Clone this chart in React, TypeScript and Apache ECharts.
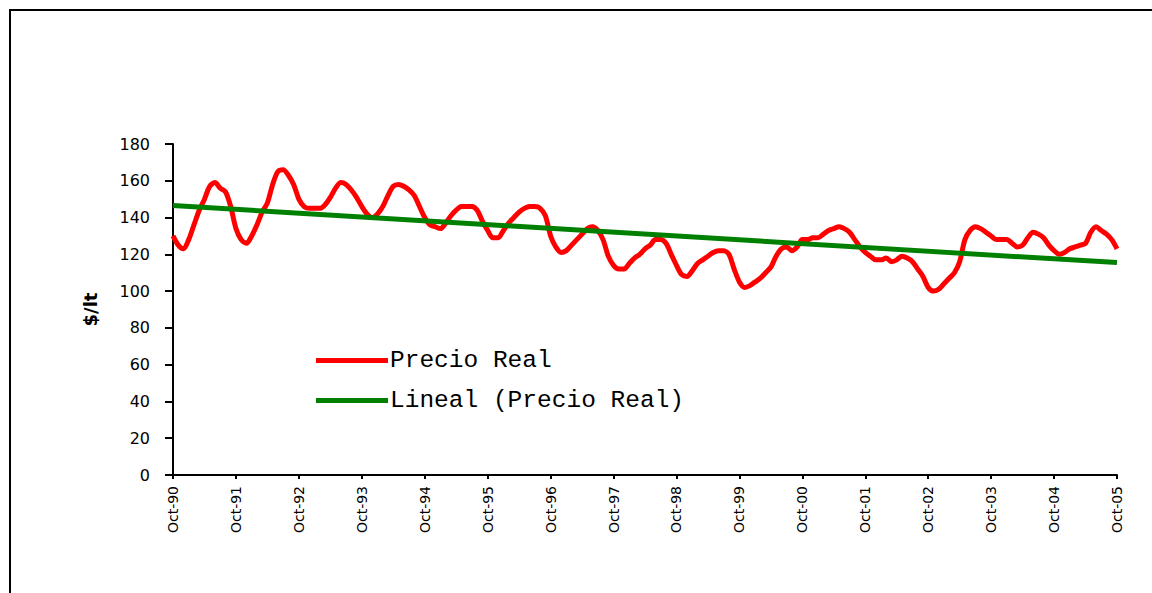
import React, { useEffect, useRef } from "react";
import * as echarts from "echarts";

// Monthly real price ($/lt), Oct-90 .. Oct-05 (181 points)
const precioReal: number[] = [
  130, 125, 123, 128, 136, 144, 150, 157, 159, 156, 154, 146,
  134, 128, 126, 130, 136, 143, 148, 158, 165, 166, 163, 158,
  150, 146, 145, 145, 145, 147, 151, 156, 159, 158, 155, 151,
  146, 142, 140, 142, 146, 152, 157, 158, 157, 155, 152, 146,
  140, 136, 135, 134, 137, 141, 144, 146, 146, 146, 144, 138,
  133, 129, 129, 133, 137, 140, 143, 145, 146, 146, 145, 141,
  130, 124, 121, 122, 125, 128, 131, 134, 135, 133, 128, 119,
  114, 112, 112, 115, 118, 120, 123, 125, 128, 128, 126, 120,
  114, 109, 108, 111, 115, 117, 119, 121, 122, 122, 120, 112,
  105, 102, 103, 105, 107, 110, 113, 119, 123, 124, 122, 124,
  128, 128, 129, 129, 131, 133, 134, 135, 134, 132, 128, 124,
  121, 119, 117, 117, 118, 116, 117, 119, 118, 116, 112, 108,
  102, 100, 101, 104, 107, 110, 116, 128, 133, 135, 134, 132,
  130, 128, 128, 128, 126, 124, 125, 129, 132, 131, 129, 125,
  122, 120, 121, 123, 124, 125, 126, 132, 135, 133, 131, 128,
  123,
];

// Linear trend ("Lineal (Precio Real)") end values
const trendStart = 146.5;
const trendEnd = 115.5;

const monthNames = ["Jan", "Feb", "Mar", "Apr", "May", "Jun", "Jul", "Aug", "Sep", "Oct", "Nov", "Dec"];
const startMonth = 9; // Oct
const startYear = 1990;

const yTicks = { min: 0, max: 180, interval: 20 };

const seriesNames = ["Precio Real", "Lineal (Precio Real)"];

export default function App() {
  const ref = useRef<HTMLDivElement>(null);

  useEffect(() => {
    if (!ref.current) return;
    const chart = echarts.init(ref.current, undefined, { renderer: "svg" });

    const categories = precioReal.map((_, i) => {
      const m = (startMonth + i) % 12;
      const y = startYear + Math.floor((startMonth + i) / 12);
      return `${monthNames[m]}-${String(y % 100).padStart(2, "0")}`;
    });

    const trend = precioReal.map((_, i) =>
      i === 0 ? trendStart : i === precioReal.length - 1 ? trendEnd : null
    );

    chart.setOption({
      animation: false,
      backgroundColor: "#ffffff",
      graphic: [
        {
          type: "rect",
          shape: { x: 10, y: 10, width: 1300, height: 800 },
          style: { fill: "none", stroke: "#000000", lineWidth: 2 },
          silent: true,
        },
      ],
      legend: {
        orient: "vertical",
        left: 311,
        top: 343,
        icon: "rect",
        itemWidth: 72,
        itemHeight: 5,
        itemGap: 15,
        textStyle: {
          fontFamily: "Liberation Mono",
          fontSize: 24.5,
          color: "#000000",
          lineHeight: 24,
          padding: [0, 0, 0, -3],
        },
        data: seriesNames,
      },
      grid: { left: 173, right: 35, top: 144, bottom: 118, containLabel: false },
      xAxis: {
        type: "category",
        boundaryGap: false,
        data: categories,
        axisLine: { lineStyle: { color: "#000000", width: 2 } },
        axisTick: { interval: 11, length: 4, lineStyle: { color: "#000000", width: 2 } },
        axisLabel: {
          interval: 11,
          rotate: 90,
          margin: 11,
          color: "#000000",
          fontFamily: "DejaVu Sans",
          fontSize: 14,
        },
        splitLine: { show: false },
      },
      yAxis: {
        type: "value",
        min: yTicks.min,
        max: yTicks.max,
        interval: yTicks.interval,
        name: "$/lt",
        nameLocation: "middle",
        nameRotate: 90,
        nameGap: 74,
        nameTextStyle: {
          fontFamily: "DejaVu Sans",
          fontWeight: "bold",
          fontSize: 18,
          color: "#000000",
        },
        axisLine: { show: true, lineStyle: { color: "#000000", width: 2 } },
        axisTick: { show: true, length: 8, lineStyle: { color: "#000000", width: 2 } },
        axisLabel: {
          margin: 23,
          color: "#000000",
          fontFamily: "DejaVu Sans",
          fontSize: 16,
        },
        splitLine: { show: false },
      },
      series: [
        {
          name: seriesNames[0],
          type: "line",
          data: precioReal,
          showSymbol: false,
          smooth: 0.3,
          itemStyle: { color: "#ff0000" },
          lineStyle: { color: "#ff0000", width: 5 },
          z: 2,
        },
        {
          name: seriesNames[1],
          type: "line",
          data: trend,
          connectNulls: true,
          showSymbol: false,
          itemStyle: { color: "#008000" },
          lineStyle: { color: "#008000", width: 5 },
          z: 3,
        },
      ],
    });

    return () => chart.dispose();
  }, []);

  return (
    <div
      ref={ref}
      style={{ position: "fixed", left: 0, top: 0, width: 1152, height: 593 }}
    />
  );
}
